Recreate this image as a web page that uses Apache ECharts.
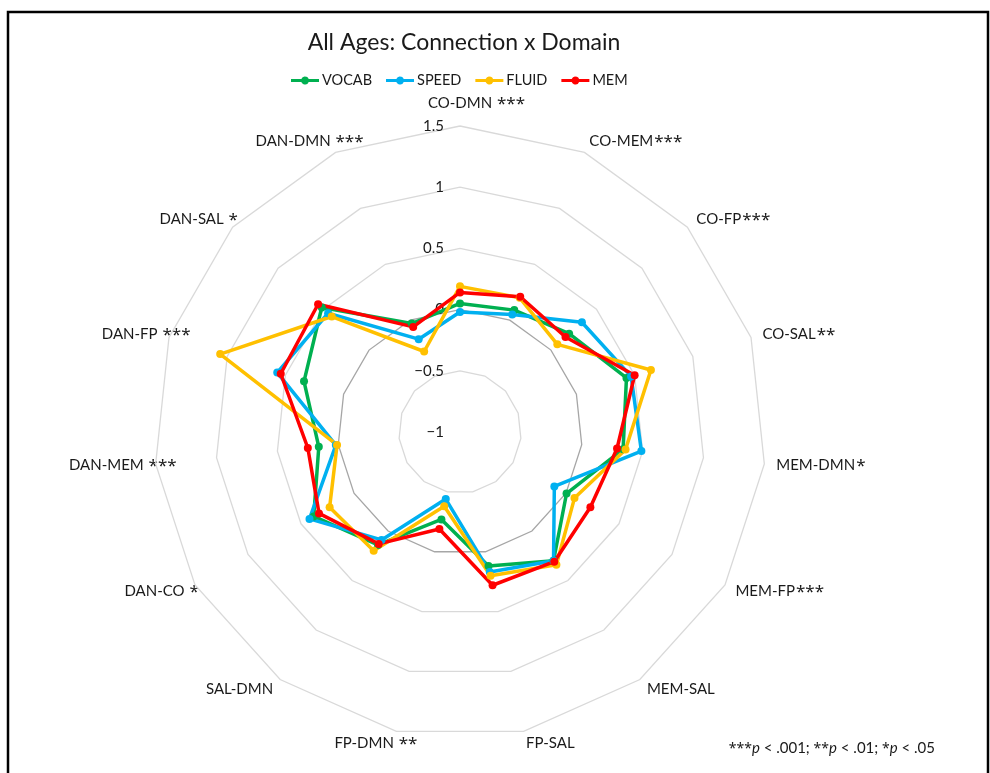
<!DOCTYPE html>
<html>
<head>
<meta charset="utf-8">
<title>All Ages: Connection x Domain</title>
<script src="https://cdn.jsdelivr.net/npm/echarts@6/dist/echarts.min.js"></script>
<style>
  html, body { margin: 0; padding: 0; background: #fff; }
  #radar { width: 990px; height: 773px; }
</style>
</head>
<body>
<div id="radar"></div>
<script>
// connections, clockwise from the top
var connections = ['CO-DMN', 'CO-MEM', 'CO-FP', 'CO-SAL', 'MEM-DMN', 'MEM-FP', 'MEM-SAL', 'FP-SAL',
  'FP-DMN', 'SAL-DMN', 'DAN-CO', 'DAN-MEM', 'DAN-FP', 'DAN-SAL', 'DAN-DMN'];
var stars = ['***', '***', '***', '**', '*', '***', '', '', '**', '', '*', '***', '***', '*', '***'];

var vocab = [0.05, 0.09, 0.20, 0.43, 0.34, 0.005, 0.30, 0.12, -0.27, 0.14, 0.38, 0.16, 0.34, 0.52, -0.03];
var speed = [-0.02, 0.05, 0.34, 0.47, 0.49, -0.11, 0.30, 0.17, -0.44, 0.09, 0.42, 0.02, 0.57, 0.45, -0.17];
var fluid = [0.19, 0.20, 0.07, 0.64, 0.36, 0.08, 0.34, 0.20, -0.38, 0.20, 0.23, 0.01, 1.06, 0.41, -0.28];
var mem = [0.14, 0.21, 0.16, 0.50, 0.29, 0.23, 0.31, 0.28, -0.19, 0.13, 0.33, 0.25, 0.54, 0.56, -0.06];

var domains = ['VOCAB', 'SPEED', 'FLUID', 'MEM'];
var colors = ['#00b050', '#00b0f0', '#ffc000', '#ff0000'];
var ticks = [-1, -0.5, 0, 0.5, 1, 1.5];

var cx = 460, cy = 432, R = 306;
var font = 'Lato, "Open Sans", sans-serif';
var starFont = '"Noto Sans", sans-serif';

// echarts radar runs counter-clockwise, so keep the first one and reverse the rest
function ccw(arr) {
  return [arr[0]].concat(arr.slice(1).reverse());
}

var chart = echarts.init(document.getElementById('radar'));

// axis names drawn by hand so the stars hang off the name like in the original
var measure = document.createElement('canvas').getContext('2d');
measure.font = '15px ' + font;
var labels = [];
connections.forEach(function (name, i) {
  var a = i * 2 * Math.PI / connections.length;
  var sx = Math.sin(a), sy = -Math.cos(a);
  var w = measure.measureText(name).width;
  var r = R + 12;
  var ax = cx + sx * r, ay = cy + sy * r;
  var left;
  if (Math.abs(sx) < 0.01) {
    left = ax - w / 2;
    ay = cy - R - 23;
  } else if (sx > 0) {
    left = ax;
  } else {
    left = ax - w;
  }
  labels.push({
    type: 'text',
    x: left,
    y: ay,
    style: {
      text: name + (stars[i] ? (sx > 0 ? '' : ' ') + '{s|' + stars[i] + '}' : ''),
      font: '15px ' + font,
      fill: '#1a1a1a',
      align: 'left',
      verticalAlign: 'middle',
      rich: { s: { fontSize: 17, fontFamily: starFont, fill: '#1a1a1a', padding: [2, 0, 0, 1] } }
    }
  });
});

var series = domains.map(function (d, k) {
  var vals = [vocab, speed, fluid, mem][k];
  return {
    name: d,
    type: 'radar',
    symbol: 'circle',
    symbolSize: 8,
    lineStyle: { width: 3.5, color: colors[k] },
    itemStyle: { color: colors[k] },
    data: [{ name: d, value: ccw(vals) }]
  };
});

var legendIcon = 'path://M0,2.5H10.3A4,4,0,0,1,17.7,2.5H28V5.5H17.7A4,4,0,0,1,10.3,5.5H0Z';

var option = {
  animation: false,
  backgroundColor: '#fff',
  title: {
    text: 'All Ages: Connection x Domain',
    left: 459,
    top: 26,
    textAlign: 'center',
    textStyle: { fontFamily: font, fontSize: 23, fontWeight: 'normal', color: '#1a1a1a' }
  },
  legend: {
    data: domains.map(function (d) { return { name: d, icon: legendIcon }; }),
    left: 291,
    top: 73,
    padding: 0,
    itemWidth: 28,
    itemHeight: 8,
    itemGap: 14,
    textStyle: { fontFamily: font, fontSize: 14.5, color: '#1a1a1a', padding: [0, 0, 0, -2] }
  },
  radar: {
    center: [cx, cy],
    radius: R,
    startAngle: 90,
    shape: 'polygon',
    splitNumber: 5,
    indicator: ccw(connections).map(function (c) { return { name: c, min: -1, max: 1.5 }; }),
    axisName: { show: false },
    axisLine: { show: false },
    axisTick: { show: false },
    axisLabel: { show: false },
    splitArea: { show: false },
    splitLine: {
      lineStyle: {
        width: 1.3,
        color: ['#d9d9d9', '#d9d9d9', '#a6a6a6', '#d9d9d9', '#d9d9d9', '#d9d9d9']
      }
    }
  },
  polar: { center: [cx, cy], radius: R },
  angleAxis: { show: false, startAngle: 90 },
  radiusAxis: {
    min: ticks[0],
    max: ticks[ticks.length - 1],
    interval: 0.5,
    axisLine: { show: false },
    axisTick: { show: false },
    splitLine: { show: false },
    axisLabel: {
      fontFamily: font,
      fontSize: 15,
      color: '#1a1a1a',
      margin: 16,
      formatter: function (v) { return String(v).replace('-', '\u2212'); }
    }
  },
  graphic: labels.concat([
    {
      type: 'rect',
      shape: { x: 8, y: 12, width: 980, height: 800 },
      style: { fill: 'none', stroke: '#000', lineWidth: 2.5 },
      silent: true
    },
    {
      type: 'text',
      x: 935,
      y: 748,
      style: {
        text: '{s|***}{i|p} < .001; {s|**}{i|p} < .01; {s|*}{i|p} < .05',
        font: '15px ' + font,
        fill: '#1a1a1a',
        align: 'right',
        verticalAlign: 'middle',
        rich: {
          i: { fontStyle: 'italic', fontSize: 15, fontFamily: font, fill: '#1a1a1a' },
          s: { fontSize: 14, fontFamily: starFont, fill: '#1a1a1a', padding: [2, 0, 0, 0] }
        }
      }
    }
  ]),
  series: series
};

chart.setOption(option);
</script>
</body>
</html>
